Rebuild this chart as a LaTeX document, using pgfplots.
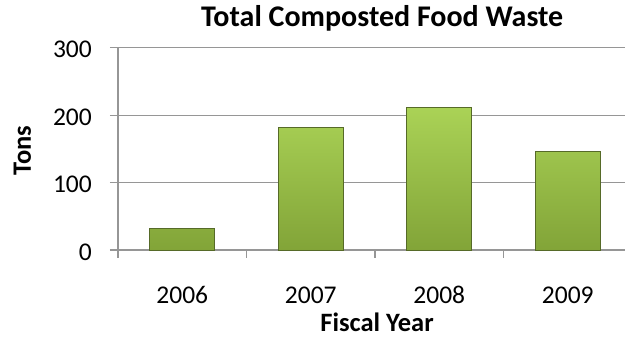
\documentclass[border=0pt]{standalone}
\usepackage{pgfplots}
\pgfplotsset{compat=1.18}
\usepackage{fontspec}
\setmainfont{Carlito}
\definecolor{gridgray}{RGB}{150,150,150}
\definecolor{bartop}{RGB}{170,210,86}
\definecolor{barbot}{RGB}{130,164,56}
\definecolor{baredge}{RGB}{86,106,40}
\begin{document}
\begin{tikzpicture}[x=1pt,y=1pt]
\useasboundingbox (0,0) rectangle (625,337);
\begin{axis}[
  at={(118pt,87pt)}, anchor=south west,
  scale only axis, width=514pt, height=202.3pt,
  xmin=-0.5, xmax=3.5, ymin=0, ymax=300,
  axis lines*=left,
  axis line style={gridgray, line width=1.2pt},
  xtick={0,1,2,3}, xticklabels={2006,2007,2008,2009},
  major x tick style={draw=none},
  minor xtick={-0.5,0.5,1.5,2.5,3.5},
  minor tick length=8pt,
  minor x tick style={gridgray, line width=1.2pt},
  ytick={0,100,200,300},
  major tick length=8pt,
  major y tick style={gridgray, line width=1.2pt},
  tick align=outside,
  ymajorgrids,
  major grid style={gridgray, line width=1.2pt},
  tick label style={font=\fontsize{25.5}{30}\selectfont},
  /pgf/number format/assume math mode=true,
  yticklabel style={anchor=east, inner sep=0pt, xshift=-18pt, yshift=-2pt},
  xticklabel style={anchor=base, yshift=-46pt},
  title={\textbf{Total Composted Food Waste}},
  title style={font=\fontsize{30}{34}\selectfont, at={(axis description cs:0.514,1.076)}, anchor=base},
  xlabel={\textbf{Fiscal Year}},
  xlabel style={font=\fontsize{26.5}{30}\selectfont, at={(axis description cs:0.504,-0.405)}, anchor=base},
  ylabel={\textbf{Tons}},
  ylabel style={font=\fontsize{26.5}{30}\selectfont, at={(axis description cs:-0.186,0.49)}, anchor=center, rotate=0},
  ybar, bar width=65pt,
  clip=false,
]
\addplot[draw=baredge, line width=0.8pt, top color=bartop, bottom color=barbot]
  coordinates {(0,32) (1,182) (2,211) (3,146)};
\end{axis}
\end{tikzpicture}
\end{document}
